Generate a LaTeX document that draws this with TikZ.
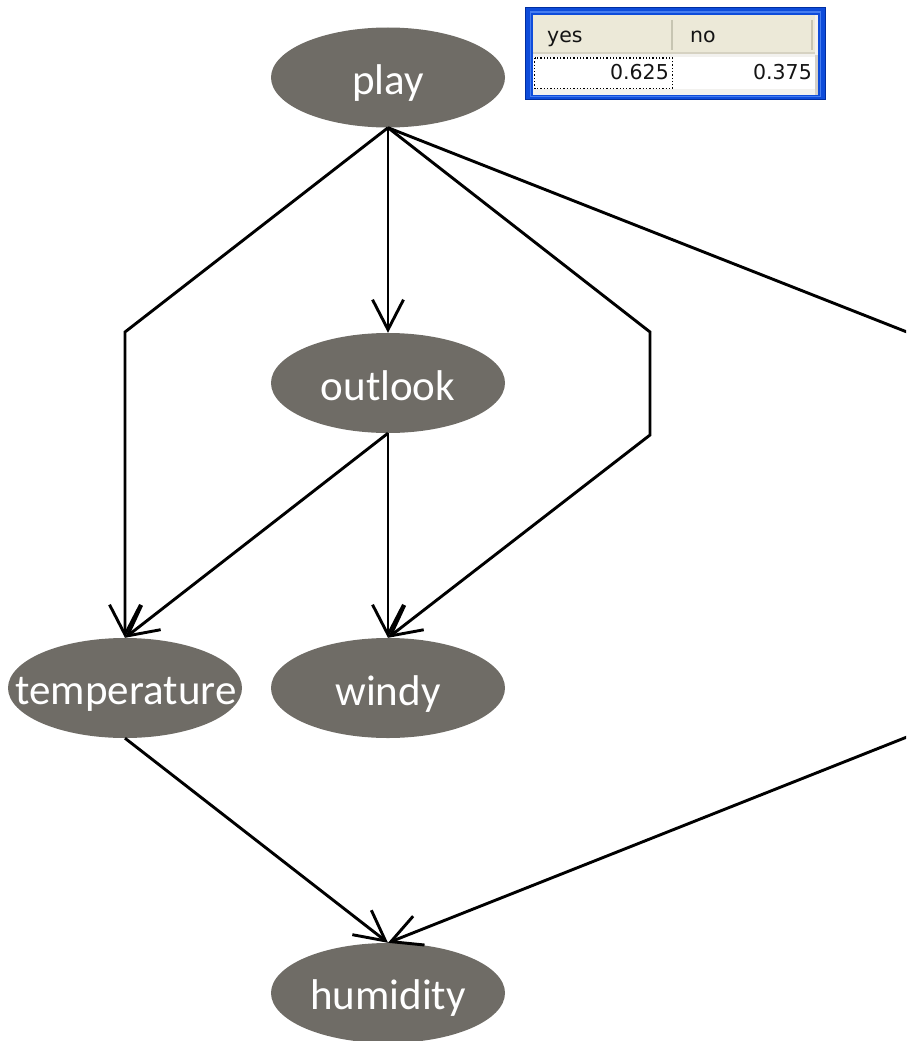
\documentclass[tikz,border=0pt]{standalone}
\usepackage{fontspec}
\setmainfont{Carlito}
\newfontfamily\tabfont{DejaVu Sans}
\usetikzlibrary{arrows.meta,shapes.geometric}
\definecolor{nodegray}{RGB}{111,108,102}
\definecolor{xpblue}{RGB}{14,76,218}
\definecolor{xpdark}{RGB}{0,46,160}
\definecolor{xplight}{RGB}{70,125,240}
\definecolor{xpheader}{RGB}{236,233,216}
\definecolor{xpheadline}{RGB}{214,210,194}
\definecolor{xpsep}{RGB}{199,197,178}
\definecolor{xppanel}{RGB}{242,241,238}
\definecolor{xpside}{RGB}{212,208,200}
\definecolor{tabtext}{RGB}{20,20,20}
\begin{document}
\begin{tikzpicture}[x=1pt,y=-1pt,
  bn/.style={ellipse,fill=nodegray,draw=none,minimum width=234pt,minimum height=100pt,inner sep=0pt},
  lbl/.style={anchor=base,text=white,inner sep=0pt,font=\fontsize{43}{43}\selectfont},
  edge/.style={line width=2.9pt,line join=miter,-{Straight Barb[length=30pt,width=31pt]}},
  tabtxt/.style={inner sep=0pt,text=tabtext,font=\tabfont\fontsize{20.5}{21}\selectfont}]
\useasboundingbox (0,0) rectangle (906,1041);
\clip (0,0) rectangle (906,1041);
% probability table
\fill[xpblue] (525,7) rectangle (826,100);
\draw[xpdark,line width=1.2pt] (525.6,7.6) rectangle (825.4,99.4);
\draw[xplight,line width=1.5pt] (530.5,12) rectangle (820.5,96.5);
\fill[xppanel] (533,15) rectangle (818,95);
\fill[xpheader] (533,15) rectangle (815,54);
\draw[xpheadline,line width=2pt] (533,53.5) -- (815,53.5);
\draw[xpsep,line width=2pt] (672,20) -- (672,50);
\draw[xpsep,line width=2pt] (812,20) -- (812,50);
\fill[white] (533,57) rectangle (815,89);
\fill[xpside] (815,55) rectangle (818,95);
\draw[black,dotted,line width=1.3pt] (534.5,58) rectangle (672.5,88.5);
\node[tabtxt,anchor=base west] (tyes) at (547,43) {yes};
\node[tabtxt,anchor=base west] (tno) at (690,43) {no};
\node[tabtxt,anchor=base east] (tv1) at (669,80) {0.625};
\node[tabtxt,anchor=base east] (tv2) at (812,80) {0.375};
% nodes
\node[bn] (play) at (388,77.5) {};
\node[bn] (outlook) at (388,383) {};
\node[bn] (temperature) at (125,688) {};
\node[bn] (windy) at (388,688) {};
\node[bn] (humidity) at (388,993) {};
\node[lbl] (playl) at (388,95) {play};
\node[lbl] (outlookl) at (388,400) {outlook};
\node[lbl] (temperaturel) at (126,704) {temperature};
\node[lbl] (windyl) at (388,705) {windy};
\node[lbl] (humidityl) at (388,1009) {humidity};
% bend points
\coordinate (b1) at (125,332);
\coordinate (b1m) at (125,434);
\coordinate (b2) at (650,332);
\coordinate (b3) at (650,435);
\coordinate (b4) at (912,334);
\coordinate (b5) at (912,735);
% edges
\draw[edge] (play.south) -- (outlook.north);
\draw[edge] (play.south) -- (b1) -- (b1m) -- (temperature.north);
\draw[edge] (play.south) -- (b2) -- (b3) -- (windy.north);
\draw[edge] (play.south) -- (b4) -- (b5) -- (humidity.north);
\draw[edge] (outlook.south) -- (temperature.north);
\draw[edge] (outlook.south) -- (windy.north);
\draw[edge] (temperature.south) -- (humidity.north);
\end{tikzpicture}
\end{document}
